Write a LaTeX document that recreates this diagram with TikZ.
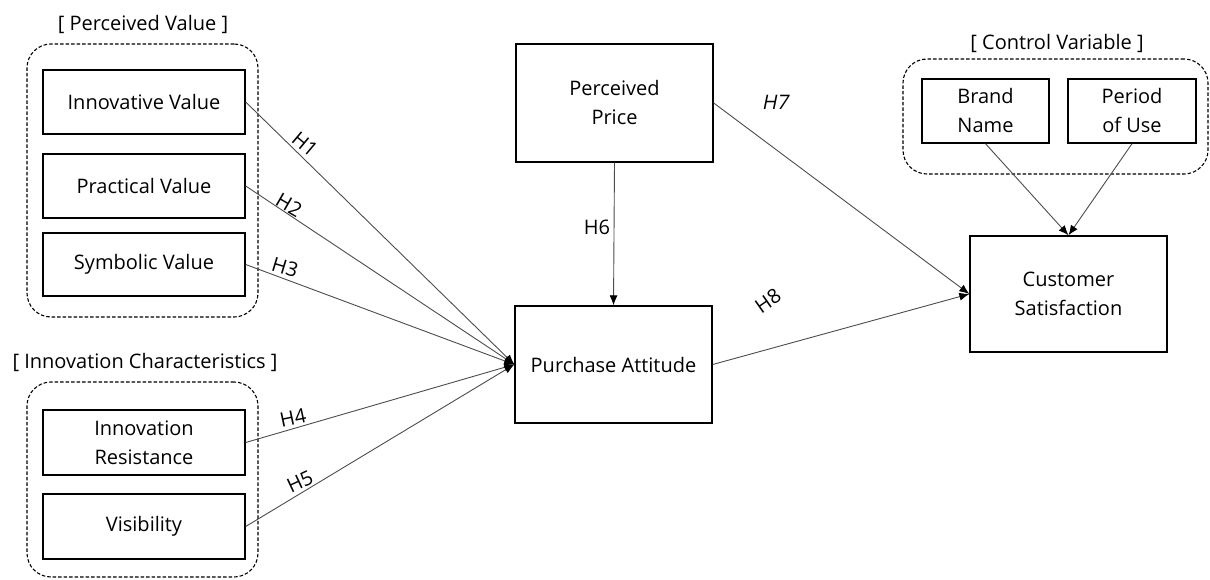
\documentclass[tikz,border=0pt]{standalone}
\usepackage{fontspec}
\setmainfont{Open Sans}
\newfontfamily\slantfont[FakeSlant=0.2]{Open Sans}
\usetikzlibrary{arrows.meta}
\begin{document}
\begin{tikzpicture}[x=1pt,y=-1pt,
  every node/.style={font=\fontsize{20}{29}\selectfont},
  box/.style={draw=black, line width=1.4pt, inner sep=0pt, align=center},
  group/.style={draw=black, line width=1.1pt, dash pattern=on 3.5pt off 2pt, rounded corners=24pt, inner sep=0pt},
  conn/.style={draw=black!70, line width=0.9pt, -{Latex[length=10pt,width=8pt,fill=black,color=black]}},
  hyp/.style={inner sep=0pt}
]
\useasboundingbox (0,0) rectangle (1210,580);
% groups
\node[group, minimum width=231pt, minimum height=273pt] (g1) at (142.5,180.5) {};
\node[group, minimum width=231pt, minimum height=195pt] (g2) at (142.5,479.5) {};
\node[group, minimum width=305pt, minimum height=115pt] (g3) at (1055.5,116.5) {};
% group labels
\node (l1) at (143,24) {[ Perceived Value ]};
\node (l2) at (145,362) {[ Innovation Characteristics ]};
\node (l3) at (1057,43) {[ Control Variable ]};
% boxes
\node[box, minimum width=202pt, minimum height=64pt] (iv) at (144,102) {Innovative Value};
\node[box, minimum width=202pt, minimum height=64pt] (pv) at (144,186) {Practical Value};
\node[box, minimum width=202pt, minimum height=63pt] (sv) at (144,264.5) {Symbolic Value};
\node[box, minimum width=202pt, minimum height=65pt] (ir) at (144,442.5) {Innovation\\Resistance};
\node[box, minimum width=202pt, minimum height=65pt] (vi) at (144,526.5) {Visibility};
\node[box, minimum width=197pt, minimum height=118pt] (pp) at (614.5,103) {Perceived\\Price};
\node[box, minimum width=197pt, minimum height=117pt] (pa) at (613.5,364.5) {Purchase Attitude};
\node[box, minimum width=197pt, minimum height=116pt] (cs) at (1068.5,294) {Customer\\Satisfaction};
\node[box, minimum width=127pt, minimum height=64pt] (bn) at (985.5,111) {Brand\\Name};
\node[box, minimum width=128pt, minimum height=64pt] (pu) at (1132,111) {Period\\of Use};
% connectors
\draw[conn] (iv.east) -- (pa.west);
\draw[conn] (pv.east) -- (pa.west);
\draw[conn] (sv.east) -- (pa.west);
\draw[conn] (ir.east) -- (pa.west);
\draw[conn] (vi.east) -- (pa.west);
\draw[conn] (pp.south) -- (pa.north);
\draw[conn] (pp.east) -- (cs.west);
\draw[conn] (pa.east) -- (cs.west);
\draw[conn] (bn.south) -- (cs.north);
\draw[conn] (pu.south) -- (cs.north);
% hypothesis labels
\node[hyp, rotate=-40] (h1) at (305,144) {H1};
\node[hyp, rotate=-30] (h2) at (289,205) {H2};
\node[hyp, rotate=-17] (h3) at (285,267) {H3};
\node[hyp, rotate=12] (h4) at (293,418) {H4};
\node[hyp, rotate=25] (h5) at (300,482) {H5};
\node[hyp] (h6) at (597,227) {H6};
\node[hyp] (h7) at (775,102) {\slantfont H7};
\node[hyp, rotate=35] (h8) at (768,301) {H8};
\end{tikzpicture}
\end{document}
